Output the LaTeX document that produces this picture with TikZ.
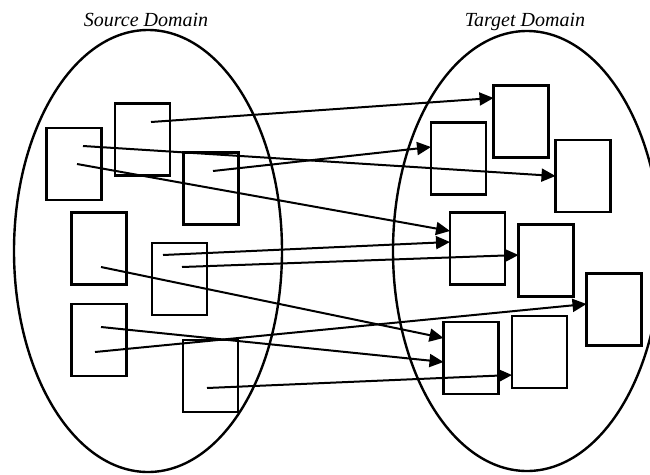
\documentclass[tikz,border=0pt]{standalone}
\usepackage{fontspec}
\setmainfont{Liberation Serif}
\usetikzlibrary{arrows.meta}
\tikzset{
  box/.style={draw, line width=2.8pt, minimum width=55pt, minimum height=72pt, inner sep=0pt, outer sep=0pt},
  dom/.style={draw, line width=2.4pt},
  conn/.style={line width=2pt, -{Triangle[length=14pt,width=13pt]}},
  lbl/.style={font=\itshape\fontsize{20}{24}\selectfont, anchor=base, inner sep=0pt}
}
\begin{document}
\begin{tikzpicture}[x=1pt,y=-1pt]
\useasboundingbox (0,0) rectangle (650,474);
\clip (0,0) rectangle (650,474);
\fill[white] (0,0) rectangle (650,474);
% domains
\draw[dom] (148,251) ellipse [x radius=134, y radius=221];
\draw[dom] (527,251) ellipse [x radius=134, y radius=220];
\node[lbl] (srcl) at (146,26) {Source Domain};
\node[lbl] (tgtl) at (525,26) {Target Domain};
% source boxes
\node[box] (A) at (74,164) {};
\node[box] (B) at (142.5,139.5) {};
\node[box] (C) at (211,188.5) {};
\node[box] (D) at (99,248.5) {};
\node[box] (E) at (179.5,279) {};
\node[box] (F) at (99,340) {};
\node[box] (G) at (210.5,376) {};
% target boxes
\node[box] (T1) at (521,121.5) {};
\node[box] (T2) at (458.5,158.5) {};
\node[box] (T3) at (583,176) {};
\node[box] (T4) at (477.5,248.5) {};
\node[box] (T5) at (546,260.5) {};
\node[box] (T6) at (614,309.5) {};
\node[box] (T7) at (471,358) {};
\node[box] (T8) at (539.5,352) {};
% start points
\coordinate (s1) at (151,122);
\coordinate (s2) at (83,146);
\coordinate (s3) at (213,171);
\coordinate (s4) at (77,164);
\coordinate (s5) at (163,255);
\coordinate (s6) at (182,267);
\coordinate (s7) at (101,267);
\coordinate (s8) at (95,352);
\coordinate (s9) at (101,327);
\coordinate (s10) at (207,388);
% connectors
\draw[conn] (s1) -- ([yshift=23.5pt]T1.west);
\draw[conn] (s2) -- (T3.west);
\draw[conn] (s3) -- ([yshift=11.5pt]T2.west);
\draw[conn] (s4) -- ([yshift=17.5pt]T4.west);
\draw[conn] (s5) -- ([yshift=6.5pt]T4.west);
\draw[conn] (s6) -- ([yshift=5.5pt]T5.west);
\draw[conn] (s7) -- ([yshift=20pt]T7.west);
\draw[conn] (s8) -- ([yshift=5.5pt]T6.west);
\draw[conn] (s9) -- ([yshift=-4pt]T7.west);
\draw[conn] (s10) -- ([yshift=-23pt]T8.west);
\end{tikzpicture}
\end{document}
